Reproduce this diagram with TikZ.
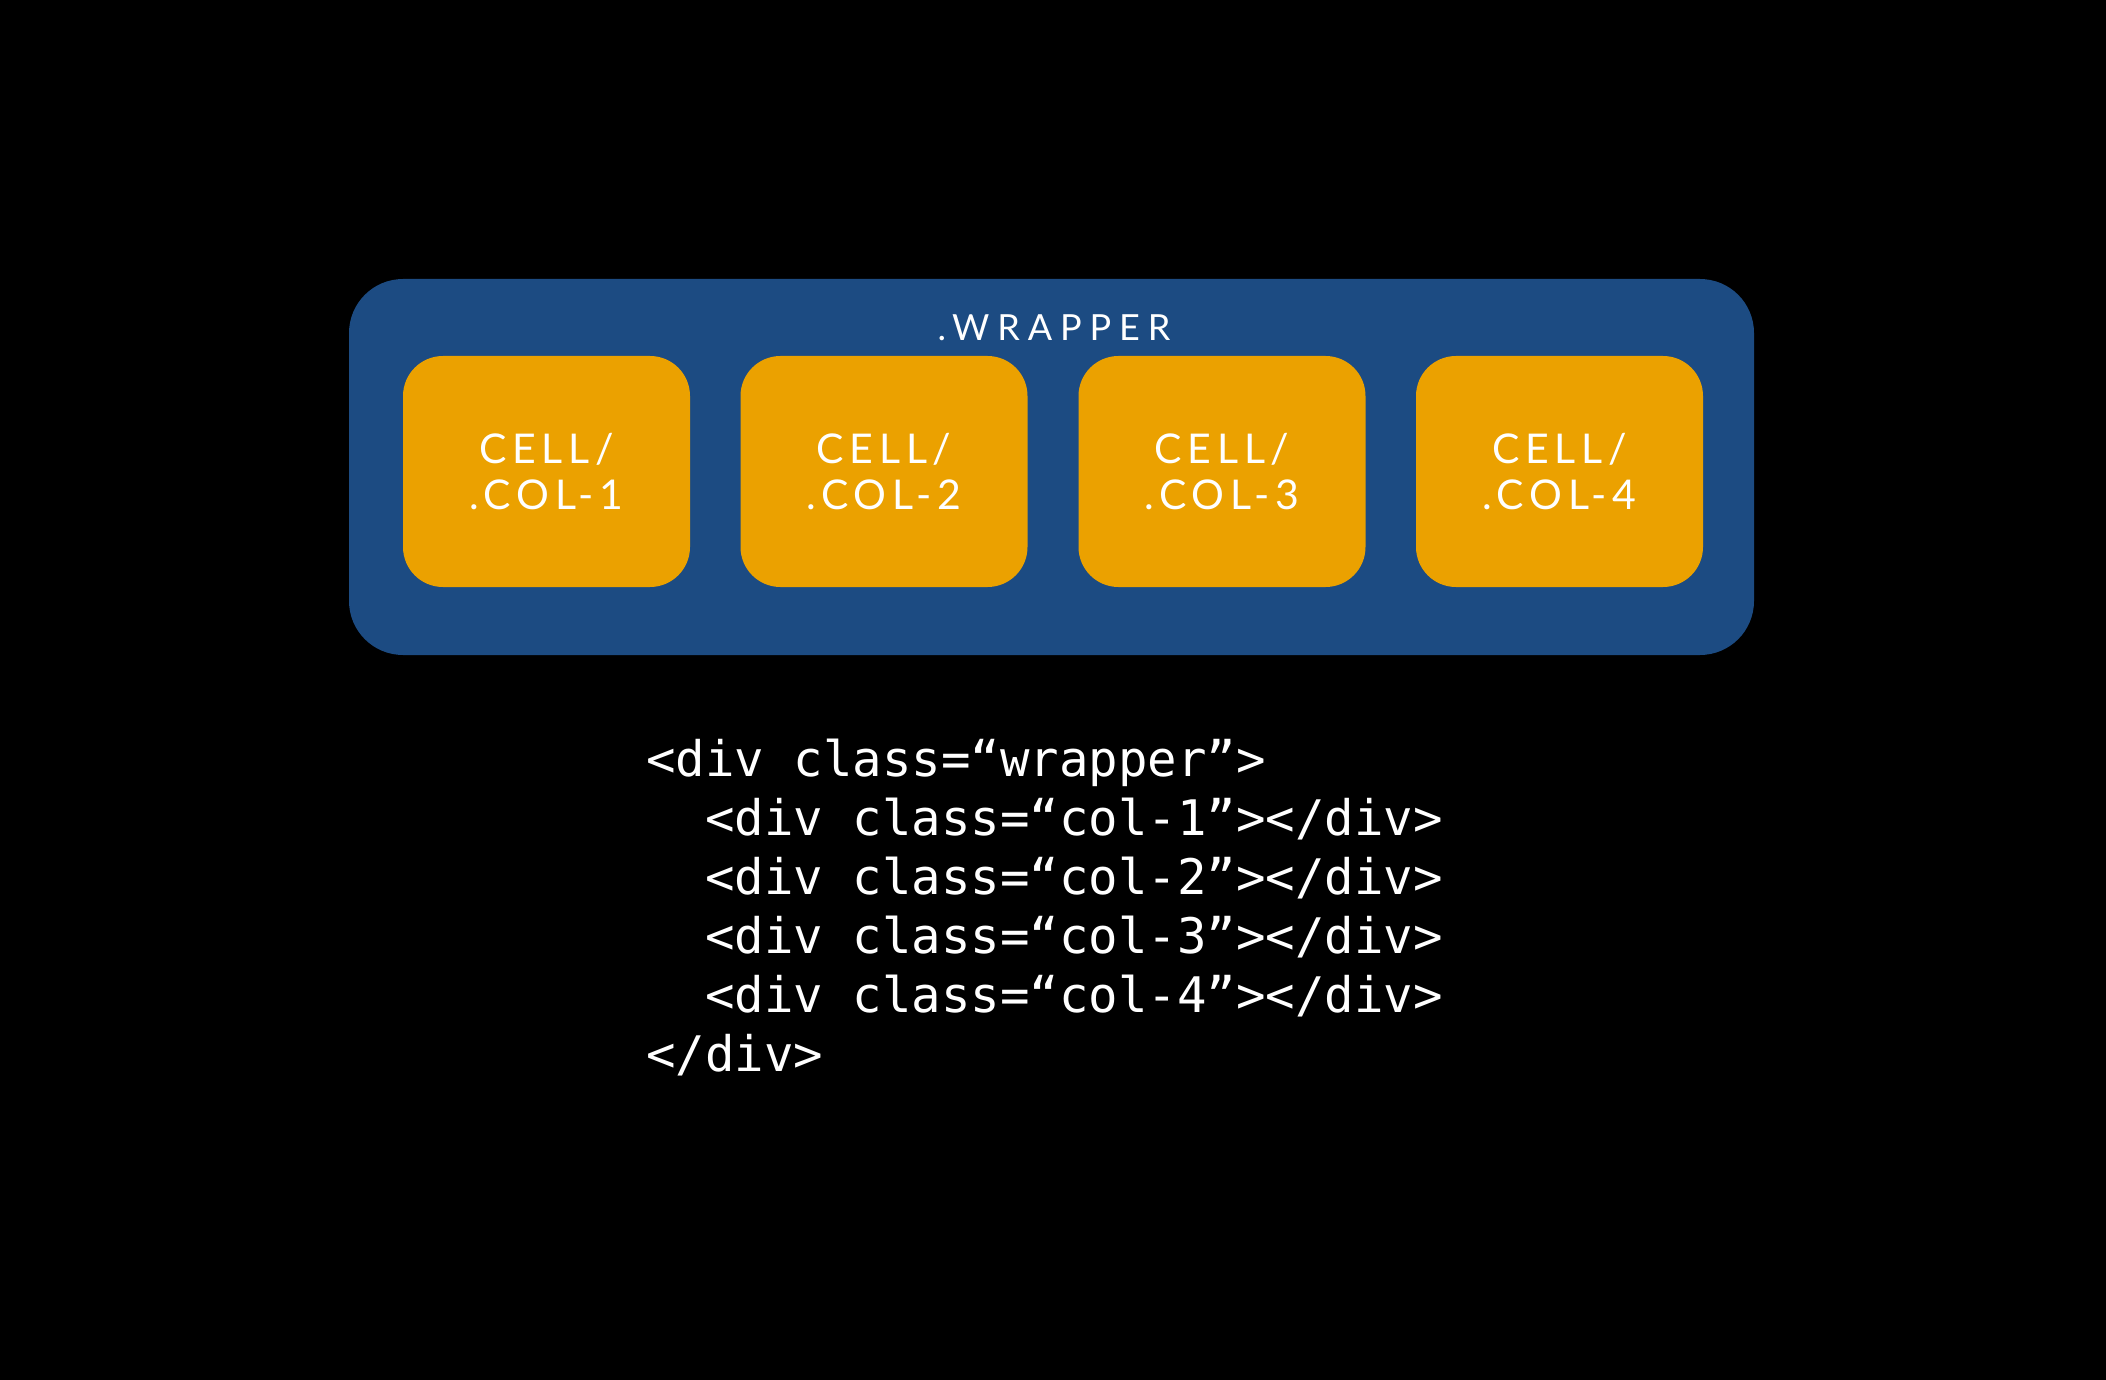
\documentclass[tikz,border=0pt]{standalone}
\usepackage{fontspec}
\setmainfont{Lato}
\newfontfamily\labelfont[LetterSpace=14]{Lato}
\newfontfamily\titlefont[LetterSpace=22]{Lato}
\newfontfamily\codefont{DejaVu Sans Mono}
\definecolor{wrapblue}{HTML}{1C4B82}
\definecolor{cellorange}{HTML}{EBA100}
\begin{document}
\begin{tikzpicture}[x=0.5pt,y=-0.5pt,
  wrapbox/.style={fill=wrapblue, draw=none, rounded corners=27pt, minimum width=702.5pt, minimum height=188pt, inner sep=0pt},
  cellbox/.style={fill=cellorange, draw=none, rounded corners=20pt, minimum width=143.5pt, minimum height=115.5pt, inner sep=0pt, align=center, text=white, font=\labelfont\fontsize{20.5pt}{23pt}\selectfont},
  wraplabel/.style={text=white, inner sep=0pt, font=\titlefont\fontsize{18pt}{21pt}\selectfont},
  codeline/.style={text=white, inner sep=0pt, anchor=base west, font=\codefont\fontsize{24.5pt}{29pt}\selectfont}]
\fill[black] (0,0) rectangle (2106,1380);
\useasboundingbox (0,0) rectangle (2106,1380);
\node[wrapbox] (wrapper) at (1051.5,467) {};
\node[wraplabel] (wraptitle) at (1054,328) {.WRAPPER};
\node[cellbox] (c1) at (546.5,471.5) {CELL/\\.COL-1};
\node[cellbox] (c2) at (884,471.5) {CELL/\\.COL-2};
\node[cellbox] (c3) at (1222,471.5) {CELL/\\.COL-3};
\node[cellbox] (c4) at (1559.5,471.5) {CELL/\\.COL-4};
\node[codeline] (l1) at (646,776) {<div class=“wrapper”>};
\node[codeline] (l2) at (705,835) {<div class=“col-1”></div>};
\node[codeline] (l3) at (705,894) {<div class=“col-2”></div>};
\node[codeline] (l4) at (705,953) {<div class=“col-3”></div>};
\node[codeline] (l5) at (705,1012) {<div class=“col-4”></div>};
\node[codeline] (l6) at (646,1071) {</div>};
\end{tikzpicture}
\end{document}
